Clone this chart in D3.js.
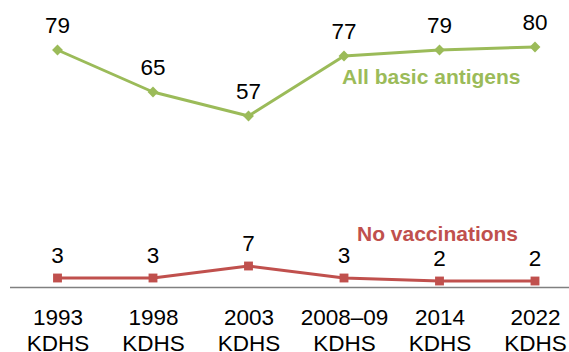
<!DOCTYPE html>
<html>
<head>
<meta charset="utf-8">
<script src="https://cdn.jsdelivr.net/npm/d3@7"></script>
<style>
  html, body { margin: 0; padding: 0; background: #fff; }
  svg { display: block; font-family: "Liberation Sans", Arial, sans-serif; }
</style>
</head>
<body>
<svg id="chart" width="569" height="352"></svg>
<script>
// Survey rounds (x categories), two lines per round
const surveyYears = ["1993", "1998", "2003", "2008\u201309", "2014", "2022"];
const surveyName = "KDHS";
const allBasicAntigens = [79, 65, 57, 77, 79, 80];
const noVaccinations = [3, 3, 7, 3, 2, 2];
const seriesNames = ["All basic antigens", "No vaccinations"];

const green = "#9bbb59";
const red = "#c0504d";

const svg = d3.select("#chart");

const x = d3.scalePoint()
  .domain(surveyYears)
  .range([57.5, 535]);

const y = d3.scaleLinear()
  .domain([0, 80])
  .range([287, 47]);

// Baseline axis with category labels (two lines each)
const xAxis = d3.axisBottom(x).tickSize(0).tickFormat(() => "");
const axisG = svg.append("g")
  .attr("transform", `translate(0,${y(0)})`)
  .call(xAxis);
axisG.select(".domain").remove();
axisG.append("line")
  .attr("x1", 10).attr("x2", 569)
  .attr("y1", 0.5).attr("y2", 0.5)
  .attr("stroke", "#808080")
  .attr("stroke-width", 1.6);

axisG.selectAll(".tick").each(function(d) {
  const t = d3.select(this).append("text")
    .attr("text-anchor", "middle")
    .attr("fill", "#000")
    .style("font-size", "22.5px");
  t.append("tspan").attr("x", 0).attr("y", 38).text(d);
  t.append("tspan").attr("x", 0).attr("y", 64).text(surveyName);
});

const line = d3.line()
  .x((d, i) => x(surveyYears[i]))
  .y(d => y(d));

function drawSeries(values, color, symbolType, symbolSize, labelDy) {
  const g = svg.append("g");
  g.append("path")
    .datum(values)
    .attr("d", line)
    .attr("fill", "none")
    .attr("stroke", color)
    .attr("stroke-width", 3)
    .attr("stroke-linejoin", "round");
  g.selectAll("path.marker")
    .data(values)
    .join("path")
    .attr("class", "marker")
    .attr("d", d3.symbol().type(symbolType).size(symbolSize))
    .attr("transform", (d, i) => `translate(${x(surveyYears[i])},${y(d)})`)
    .attr("fill", color);
  g.selectAll("text.value")
    .data(values)
    .join("text")
    .attr("class", "value")
    .attr("x", (d, i) => x(surveyYears[i]))
    .attr("y", d => y(d) + labelDy)
    .attr("text-anchor", "middle")
    .attr("fill", "#000")
    .style("font-size", "22.5px")
    .text(d => d);
}

drawSeries(allBasicAntigens, green, d3.symbolDiamond2, 75, -17);
drawSeries(noVaccinations, red, d3.symbolSquare2, 100, -15);

// Series names placed beside their lines
svg.append("text")
  .attr("x", 342).attr("y", 84)
  .attr("fill", green)
  .style("font-size", "21px")
  .style("font-weight", "bold")
  .text(seriesNames[0]);

svg.append("text")
  .attr("x", 357).attr("y", 241)
  .attr("fill", red)
  .style("font-size", "21px")
  .style("font-weight", "bold")
  .text(seriesNames[1]);
</script>
</body>
</html>
